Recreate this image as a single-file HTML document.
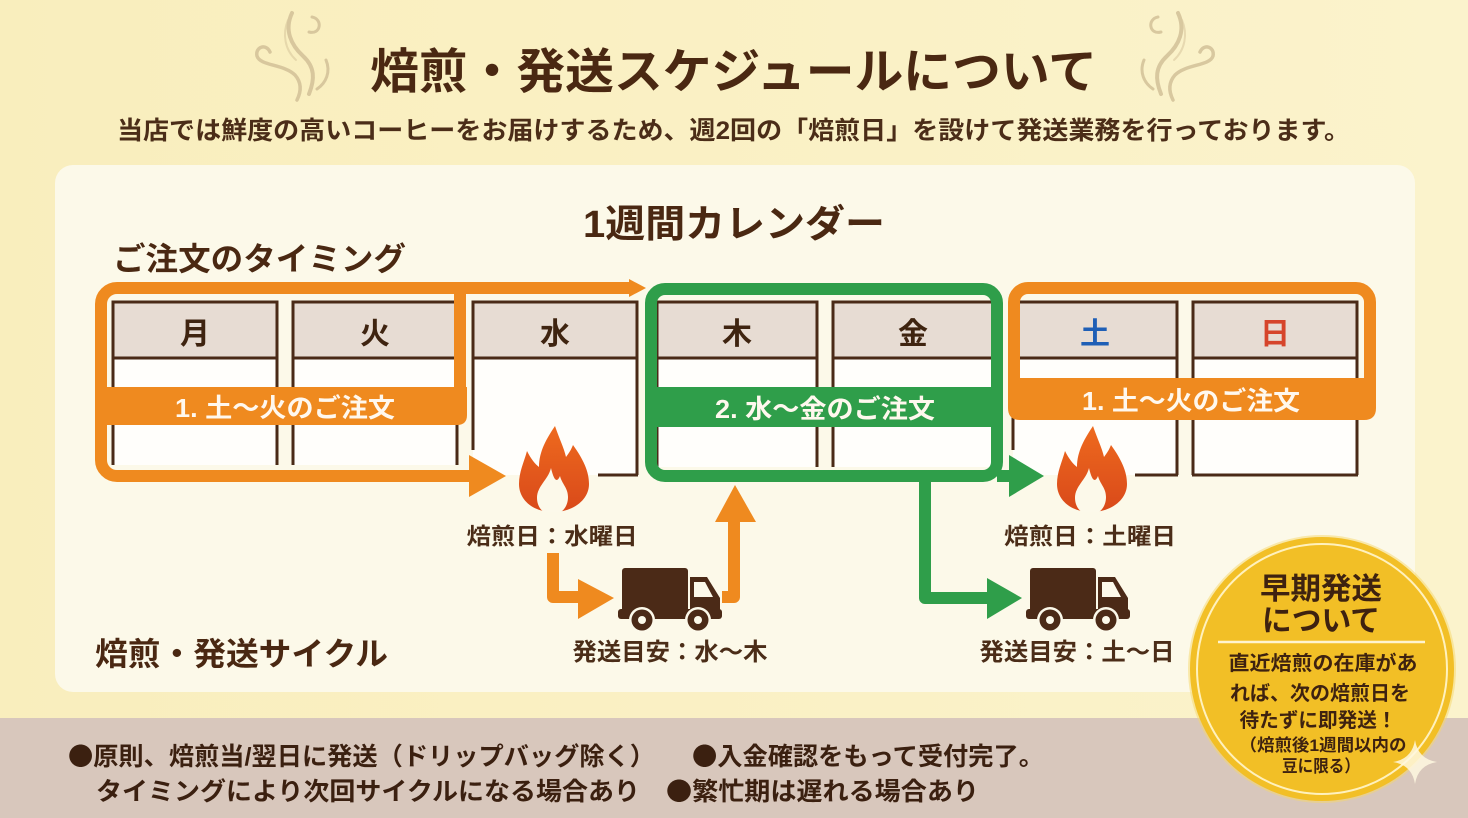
<!DOCTYPE html>
<html><head><meta charset="utf-8"><style>
html,body{margin:0;padding:0;}
body{width:1468px;height:818px;overflow:hidden;background:#faf0c2;}
svg{display:block;}
text{font-family:"Liberation Sans","Noto Sans CJK JP",sans-serif;font-weight:bold;}
.cjk{font-family:"Noto Sans CJK JP",sans-serif;}
</style></head><body>
<svg width="1468" height="818" viewBox="0 0 1468 818" xmlns="http://www.w3.org/2000/svg">
<defs>
<linearGradient id="bg" x1="0" y1="0" x2="1" y2="0">
<stop offset="0" stop-color="#f9eebd"/><stop offset="1" stop-color="#fbf3cc"/>
</linearGradient>
<linearGradient id="fl" x1="0" y1="0" x2="0" y2="1">
<stop offset="0" stop-color="#ee6a1e"/><stop offset="1" stop-color="#d9491a"/>
</linearGradient>
<g id="flame">
<path d="M36,86 C16,86 2,74 2,58 C2,46 7,36 10,25 C14,33 18,38 22,41 C22,25 30,12 38,0 C42,12 47,22 49,31 C52,27 54,24 56,19 C66,33 72,45 72,58 C72,74 56,86 36,86 Z" fill="url(#fl)"/>
<path d="M34,42 C31,54 20,60 20,72 C20,80 25,86 28,86 L44,86 C48,83 51,78 51,71 C51,62 45,58 43,50 C40,57 37,55 34,42 Z" fill="#fcf9ea"/>
</g>
<g id="truck" fill="#4b2a17">
<rect x="622" y="568" width="66" height="50" rx="3"/>
<path d="M690,577 H707 L720,598 V617 H690 Z"/>
<path d="M694,582 H705 L713,597 H694 Z" fill="#fcf9ea"/>
<rect x="618" y="609" width="104" height="10" rx="3"/>
<circle cx="642" cy="620" r="13" fill="#fcf9ea"/>
<circle cx="698" cy="620" r="13" fill="#fcf9ea"/>
<circle cx="642" cy="620" r="10.5"/>
<circle cx="698" cy="620" r="10.5"/>
<circle cx="642" cy="620" r="4" fill="#fcf9ea"/>
<circle cx="698" cy="620" r="4" fill="#fcf9ea"/>
</g>
<g id="steam" fill="none" stroke="#d3c198" stroke-linecap="round" opacity="0.85">
<path d="M270,52 C266,43 255,47 257,56 C260,66 284,64 295,75 C302,83 301,92 297,100" stroke-width="3.5"/>
<path d="M292,13 C284,30 291,45 303,56 C315,67 315,79 309,94" stroke-width="4"/>
<path d="M312,17 C323,19 321,35 309,32" stroke-width="3"/>
<path d="M326,60 C331,72 326,83 317,89" stroke-width="3"/>
<path d="M288,20 C282,34 285,50 296,60" stroke-width="2" opacity="0.6"/>
</g>
</defs>

<!-- background -->
<rect x="0" y="0" width="1468" height="818" fill="url(#bg)"/>
<rect x="55" y="165" width="1360" height="527" rx="18" fill="#fcf9e9"/>
<rect x="0" y="718" width="1468" height="100" fill="#d8c7bc"/>

<!-- steam -->
<use href="#steam"/>
<use href="#steam" transform="translate(1470,0) scale(-1,1)"/>

<!-- titles -->
<text x="370" y="88" font-size="48" fill="#4a2812" textLength="727" lengthAdjust="spacingAndGlyphs">焙煎・発送スケジュールについて</text>
<text x="117" y="139" font-size="25" fill="#4b2d18" textLength="1233" lengthAdjust="spacingAndGlyphs">当店では鮮度の高いコーヒーをお届けするため、週2回の「焙煎日」を設けて発送業務を行っております。</text>
<text x="583" y="237" font-size="38" fill="#4a2812" textLength="302" lengthAdjust="spacingAndGlyphs">1週間カレンダー</text>
<text x="113" y="270" font-size="32" fill="#4a2812" textLength="293" lengthAdjust="spacingAndGlyphs">ご注文のタイミング</text>
<text x="95" y="665" font-size="32" fill="#4a2812" textLength="293" lengthAdjust="spacingAndGlyphs">焙煎・発送サイクル</text>

<!-- calendar cells -->
<g stroke="#4a2a17" stroke-width="3">
<rect x="113" y="302" width="164" height="163" fill="#fffefb" stroke="none"/>
<rect x="293" y="302" width="164" height="163" fill="#fffefb" stroke="none"/>
<rect x="473" y="302" width="164" height="173" fill="#fffefb" stroke="none"/>
<rect x="657" y="302" width="160" height="165" fill="#fffefb" stroke="none"/>
<rect x="833" y="302" width="160" height="165" fill="#fffefb" stroke="none"/>
<rect x="1013" y="302" width="164" height="173" fill="#fffefb" stroke="none"/>
<rect x="1193" y="302" width="164" height="173" fill="#fffefb" stroke="none"/>
<rect x="113" y="302" width="164" height="56" fill="#e7dcd3"/>
<rect x="293" y="302" width="164" height="56" fill="#e7dcd3"/>
<rect x="473" y="302" width="164" height="56" fill="#e7dcd3"/>
<rect x="657" y="302" width="160" height="56" fill="#e7dcd3"/>
<rect x="833" y="302" width="160" height="56" fill="#e7dcd3"/>
<rect x="1013" y="302" width="164" height="56" fill="#e7dcd3"/>
<rect x="1193" y="302" width="164" height="56" fill="#e7dcd3"/>
<path d="M113,358 V465 M277,358 V465 M293,358 V465 M457,358 V465
M473,358 V450 M637,358 V475 M598,475 H638
M657,358 V467 M817,358 V467 M833,358 V467 M993,358 V467
M1013,358 V450 M1177,358 V475 M1135,475 H1178
M1193,358 V475 M1357,358 V475 M1192,475 H1358" fill="none"/>
</g>

<!-- header labels -->
<g font-size="30" text-anchor="middle" fill="#3f2410">
<text x="195" y="344">月</text>
<text x="375" y="344">火</text>
<text x="555" y="344">水</text>
<text x="737" y="344">木</text>
<text x="913" y="344">金</text>
<text x="1095" y="344" fill="#1f5fb6">土</text>
<text x="1275" y="344" fill="#d6452b">日</text>
</g>

<!-- orange left loop -->
<g fill="none" stroke="#ef8a1f" stroke-width="12" stroke-linejoin="round">
<path d="M632,288 H117 A16 16 0 0 0 101 304 V460 A16 16 0 0 0 117 476 H475"/>
<path d="M460,288 V395"/>
</g>
<polygon points="629,279 646,288 629,297" fill="#ef8a1f"/>
<polygon points="469,455 506,476 469,497" fill="#ef8a1f"/>
<path d="M95,387 H467 V415 Q467,425 457,425 H95 Z" fill="#ef8a1f"/>
<text x="285" y="417" font-size="26" text-anchor="middle" fill="#fff8ee" textLength="220" lengthAdjust="spacingAndGlyphs">1. 土〜火のご注文</text>

<!-- green box -->
<g fill="none" stroke="#2f9e4a" stroke-width="12" stroke-linejoin="round">
<rect x="651" y="289" width="346" height="187" rx="14"/>
<path d="M997,476 H1014"/>
<path d="M925,476 V598 H990"/>
</g>
<path d="M645,387 H1003 V417 Q1003,427 993,427 H645 Z" fill="#2f9e4a"/>
<polygon points="1009,455 1044,476 1009,497" fill="#2f9e4a"/>
<polygon points="987,578 1022,598 987,619" fill="#2f9e4a"/>
<text x="825" y="418" font-size="26" text-anchor="middle" fill="#fff8ee" textLength="220" lengthAdjust="spacingAndGlyphs">2. 水〜金のご注文</text>

<!-- orange right box -->
<rect x="1014" y="288" width="356" height="110" rx="14" fill="none" stroke="#ef8a1f" stroke-width="12"/>
<path d="M1008,378 H1376 V408 Q1376,420 1364,420 H1020 Q1008,420 1008,408 Z" fill="#ef8a1f"/>
<text x="1191" y="410" font-size="26" text-anchor="middle" fill="#fff8ee" textLength="218" lengthAdjust="spacingAndGlyphs">1. 土〜火のご注文</text>

<!-- flames -->
<use href="#flame" transform="translate(517,426)"/>
<use href="#flame" transform="translate(1055,426)"/>

<!-- orange ship arrows -->
<g fill="none" stroke="#ef8a1f" stroke-width="12" stroke-linejoin="round">
<path d="M553,553 V597 H582"/>
<path d="M722,597 H734 V518"/>
</g>
<polygon points="578,579 614,598 578,619" fill="#ef8a1f"/>
<polygon points="715,522 735,485 756,522" fill="#ef8a1f"/>

<!-- trucks -->
<use href="#truck"/>
<use href="#truck" transform="translate(408,0)"/>

<!-- labels -->
<g font-size="23" text-anchor="middle" fill="#4b2d18">
<text x="552" y="544" textLength="171" lengthAdjust="spacingAndGlyphs">焙煎日：水曜日</text>
<text x="1090" y="544" textLength="172" lengthAdjust="spacingAndGlyphs">焙煎日：土曜日</text>
<text x="670" y="660" font-size="24" textLength="195" lengthAdjust="spacingAndGlyphs">発送目安：水〜木</text>
<text x="1077" y="660" font-size="24" textLength="195" lengthAdjust="spacingAndGlyphs">発送目安：土〜日</text>
</g>

<!-- bottom notes -->
<g font-size="25" fill="#3b2010">
<text x="68" y="765" textLength="587" lengthAdjust="spacingAndGlyphs"><tspan class="cjk">●</tspan>原則、焙煎当/翌日に発送（ドリップバッグ除く）</text>
<text x="692" y="765" textLength="352" lengthAdjust="spacingAndGlyphs"><tspan class="cjk">●</tspan>入金確認をもって受付完了。</text>
<text x="96" y="800" textLength="544" lengthAdjust="spacingAndGlyphs">タイミングにより次回サイクルになる場合あり</text>
<text x="666" y="800" textLength="313" lengthAdjust="spacingAndGlyphs"><tspan class="cjk">●</tspan>繁忙期は遅れる場合あり</text>
</g>

<!-- circle -->
<circle cx="1322" cy="669" r="134" fill="#f6d86a" opacity="0.5"/>
<circle cx="1322" cy="669" r="132" fill="#f2bf26"/>
<circle cx="1322" cy="669" r="125" fill="none" stroke="#fff1bd" stroke-width="2"/>
<line x1="1218" y1="642" x2="1425" y2="642" stroke="#fff4cf" stroke-width="2.5"/>
<g text-anchor="middle" fill="#3e2210">
<text x="1321" y="599" font-size="30" textLength="122" lengthAdjust="spacingAndGlyphs">早期発送</text>
<text x="1321" y="631" font-size="30" textLength="118" lengthAdjust="spacingAndGlyphs">について</text>
<text x="1323" y="670" font-size="20" textLength="189" lengthAdjust="spacingAndGlyphs">直近焙煎の在庫があ</text>
<text x="1320" y="700" font-size="20" textLength="180" lengthAdjust="spacingAndGlyphs">れば、次の焙煎日を</text>
<text x="1318" y="727" font-size="20" textLength="157" lengthAdjust="spacingAndGlyphs">待たずに即発送！</text>
<text x="1323" y="751" font-size="17" textLength="167" lengthAdjust="spacingAndGlyphs">（焙煎後1週間以内の</text>
<text x="1321" y="772" font-size="17" textLength="78" lengthAdjust="spacingAndGlyphs">豆に限る）</text>
</g>
<path d="M1415,740 Q1418,759 1437,762 Q1418,765 1415,784 Q1412,765 1393,762 Q1412,759 1415,740 Z" fill="#fff8e0" opacity="0.85"/>
</svg>
</body></html>
